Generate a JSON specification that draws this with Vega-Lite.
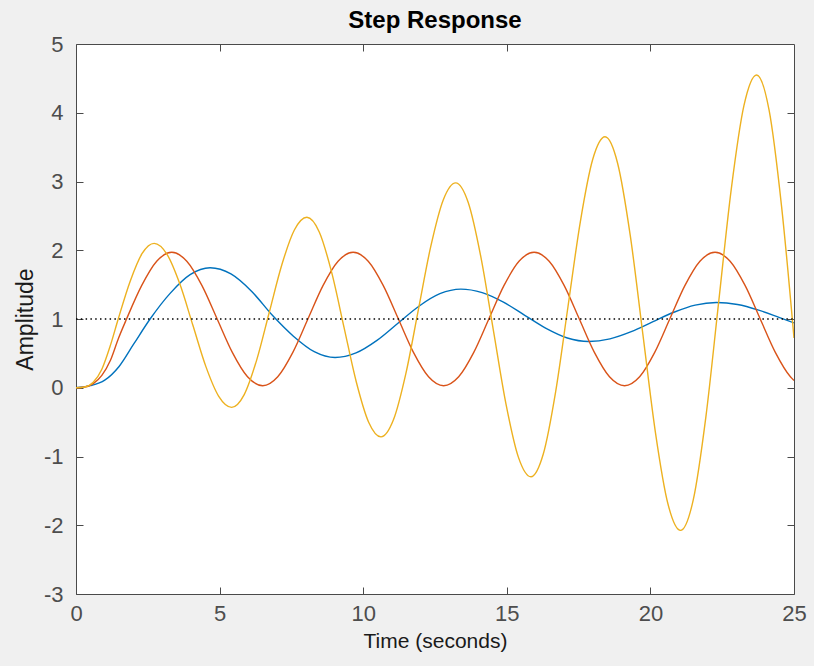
{
  "$schema": "https://vega.github.io/schema/vega-lite/v6.json",
  "width": 718,
  "height": 550,
  "autosize": {"type": "none"},
  "padding": {"left": 76, "top": 44, "right": 20, "bottom": 72},
  "background": "#f0f0f0",
  "title": {"text": "Step Response", "fontSize": 24, "fontWeight": "bold", "font": "Liberation Sans", "color": "#000000", "offset": 0, "anchor": "middle"},
  "config": {
    "view": {"fill": "white", "stroke": "#4a4a4a", "strokeWidth": 1},
    "axis": {"domain": false, "grid": false, "tickSize": -7, "tickColor": "#4a4a4a", "tickWidth": 1,
      "labelFont": "Liberation Sans", "labelFontSize": 22, "labelColor": "#4d4d4d",
      "titleFont": "Liberation Sans", "titleFontSize": 21, "titleColor": "#1a1a1a", "titleFontWeight": "normal"}
  },
  "layer": [
    {
      "data": {"values": [
        {"s":"sys1","t":0,"y":0},{"s":"sys1","t":0.5,"y":0.03},{"s":"sys1","t":1.0,"y":0.11},{"s":"sys1","t":1.5,"y":0.31},{"s":"sys1","t":2.0,"y":0.63},{"s":"sys1","t":2.58,"y":1.0},{"s":"sys1","t":3.277,"y":1.373},{"s":"sys1","t":3.973,"y":1.645},{"s":"sys1","t":4.67,"y":1.745},{"s":"sys1","t":5.395,"y":1.655},{"s":"sys1","t":6.12,"y":1.40},{"s":"sys1","t":6.845,"y":1.05},{"s":"sys1","t":7.57,"y":0.75},{"s":"sys1","t":8.295,"y":0.525},{"s":"sys1","t":9.02,"y":0.44},{"s":"sys1","t":9.75,"y":0.507},{"s":"sys1","t":10.48,"y":0.689},{"s":"sys1","t":11.21,"y":0.938},{"s":"sys1","t":11.94,"y":1.186},{"s":"sys1","t":12.67,"y":1.368},{"s":"sys1","t":13.4,"y":1.435},{"s":"sys1","t":14.142,"y":1.384},{"s":"sys1","t":14.883,"y":1.245},{"s":"sys1","t":15.625,"y":1.054},{"s":"sys1","t":16.367,"y":0.864},{"s":"sys1","t":17.108,"y":0.724},{"s":"sys1","t":17.85,"y":0.673},{"s":"sys1","t":18.592,"y":0.711},{"s":"sys1","t":19.333,"y":0.815},{"s":"sys1","t":20.075,"y":0.957},{"s":"sys1","t":20.817,"y":1.098},{"s":"sys1","t":21.558,"y":1.202},{"s":"sys1","t":22.3,"y":1.24},{"s":"sys1","t":23.033,"y":1.211},{"s":"sys1","t":23.767,"y":1.13},{"s":"sys1","t":24.5,"y":1.02},{"s":"sys1","t":25,"y":0.943},
        {"s":"sys2","t":0,"y":0},{"s":"sys2","t":0.3,"y":0.01},{"s":"sys2","t":0.6,"y":0.06},{"s":"sys2","t":0.9,"y":0.18},{"s":"sys2","t":1.2,"y":0.40},{"s":"sys2","t":1.48,"y":0.72},{"s":"sys2","t":1.76,"y":1.0},{"s":"sys2","t":2.285,"y":1.485},{"s":"sys2","t":2.81,"y":1.84},{"s":"sys2","t":3.335,"y":1.97},{"s":"sys2","t":3.858,"y":1.84},{"s":"sys2","t":4.387,"y":1.485},{"s":"sys2","t":4.915,"y":1.0},{"s":"sys2","t":5.443,"y":0.515},{"s":"sys2","t":5.972,"y":0.16},{"s":"sys2","t":6.5,"y":0.03},{"s":"sys2","t":7.025,"y":0.16},{"s":"sys2","t":7.55,"y":0.515},{"s":"sys2","t":8.075,"y":1.0},{"s":"sys2","t":8.6,"y":1.485},{"s":"sys2","t":9.125,"y":1.84},{"s":"sys2","t":9.65,"y":1.97},{"s":"sys2","t":10.175,"y":1.84},{"s":"sys2","t":10.7,"y":1.485},{"s":"sys2","t":11.225,"y":1.0},{"s":"sys2","t":11.75,"y":0.515},{"s":"sys2","t":12.275,"y":0.16},{"s":"sys2","t":12.8,"y":0.03},{"s":"sys2","t":13.325,"y":0.16},{"s":"sys2","t":13.85,"y":0.515},{"s":"sys2","t":14.375,"y":1.0},{"s":"sys2","t":14.9,"y":1.485},{"s":"sys2","t":15.425,"y":1.84},{"s":"sys2","t":15.95,"y":1.97},{"s":"sys2","t":16.475,"y":1.84},{"s":"sys2","t":17.0,"y":1.485},{"s":"sys2","t":17.525,"y":1.0},{"s":"sys2","t":18.05,"y":0.515},{"s":"sys2","t":18.575,"y":0.16},{"s":"sys2","t":19.1,"y":0.03},{"s":"sys2","t":19.625,"y":0.16},{"s":"sys2","t":20.15,"y":0.515},{"s":"sys2","t":20.675,"y":1.0},{"s":"sys2","t":21.2,"y":1.485},{"s":"sys2","t":21.725,"y":1.84},{"s":"sys2","t":22.25,"y":1.97},{"s":"sys2","t":22.775,"y":1.84},{"s":"sys2","t":23.3,"y":1.485},{"s":"sys2","t":23.825,"y":1.0},{"s":"sys2","t":24.35,"y":0.515},{"s":"sys2","t":24.875,"y":0.16},{"s":"sys2","t":25,"y":0.107},
        {"s":"sys3","t":0,"y":0},{"s":"sys3","t":0.3,"y":0.01},{"s":"sys3","t":0.6,"y":0.08},{"s":"sys3","t":0.9,"y":0.27},{"s":"sys3","t":1.2,"y":0.62},{"s":"sys3","t":1.47,"y":1.0},{"s":"sys3","t":1.887,"y":1.55},{"s":"sys3","t":2.303,"y":1.953},{"s":"sys3","t":2.72,"y":2.1},{"s":"sys3","t":3.17,"y":1.94},{"s":"sys3","t":3.62,"y":1.504},{"s":"sys3","t":4.07,"y":0.908},{"s":"sys3","t":4.52,"y":0.311},{"s":"sys3","t":4.97,"y":-0.125},{"s":"sys3","t":5.42,"y":-0.285},{"s":"sys3","t":5.857,"y":-0.1},{"s":"sys3","t":6.293,"y":0.406},{"s":"sys3","t":6.73,"y":1.098},{"s":"sys3","t":7.167,"y":1.789},{"s":"sys3","t":7.603,"y":2.295},{"s":"sys3","t":8.04,"y":2.48},{"s":"sys3","t":8.47,"y":2.266},{"s":"sys3","t":8.9,"y":1.681},{"s":"sys3","t":9.33,"y":0.883},{"s":"sys3","t":9.76,"y":0.084},{"s":"sys3","t":10.19,"y":-0.501},{"s":"sys3","t":10.62,"y":-0.715},{"s":"sys3","t":11.053,"y":-0.467},{"s":"sys3","t":11.487,"y":0.209},{"s":"sys3","t":11.92,"y":1.133},{"s":"sys3","t":12.353,"y":2.056},{"s":"sys3","t":12.787,"y":2.732},{"s":"sys3","t":13.22,"y":2.98},{"s":"sys3","t":13.657,"y":2.694},{"s":"sys3","t":14.093,"y":1.911},{"s":"sys3","t":14.53,"y":0.843},{"s":"sys3","t":14.967,"y":-0.226},{"s":"sys3","t":15.403,"y":-1.009},{"s":"sys3","t":15.84,"y":-1.295},{"s":"sys3","t":16.27,"y":-0.964},{"s":"sys3","t":16.7,"y":-0.059},{"s":"sys3","t":17.13,"y":1.178},{"s":"sys3","t":17.56,"y":2.414},{"s":"sys3","t":17.99,"y":3.319},{"s":"sys3","t":18.42,"y":3.65},{"s":"sys3","t":18.858,"y":3.266},{"s":"sys3","t":19.297,"y":2.219},{"s":"sys3","t":19.735,"y":0.788},{"s":"sys3","t":20.173,"y":-0.644},{"s":"sys3","t":20.612,"y":-1.691},{"s":"sys3","t":21.05,"y":-2.075},{"s":"sys3","t":21.492,"y":-1.631},{"s":"sys3","t":21.933,"y":-0.419},{"s":"sys3","t":22.375,"y":1.238},{"s":"sys3","t":22.817,"y":2.894},{"s":"sys3","t":23.258,"y":4.106},{"s":"sys3","t":23.7,"y":4.55},{"s":"sys3","t":24.133,"y":4.037},{"s":"sys3","t":24.567,"y":2.638},{"s":"sys3","t":25,"y":0.725}
      ]},
      "mark": {"type": "line", "interpolate": "monotone", "strokeWidth": 1.4, "clip": true},
      "encoding": {
        "x": {"field": "t", "type": "quantitative", "scale": {"domain": [0, 25], "nice": false, "zero": false},
          "axis": {"orient": "bottom", "values": [0, 5, 10, 15, 20, 25], "title": "Time (seconds)", "labelPadding": 16, "titlePadding": 6, "labelFlush": false, "labelExpr": "'' + datum.value"}},
        "y": {"field": "y", "type": "quantitative", "scale": {"domain": [-3, 5], "nice": false, "zero": false},
          "axis": {"orient": "left", "values": [-3, -2, -1, 0, 1, 2, 3, 4, 5], "title": "Amplitude", "titleFontSize": 23, "labelPadding": 20, "titlePadding": 6, "labelFlush": false, "labelExpr": "'' + datum.value"}},
        "color": {"field": "s", "type": "nominal", "scale": {"domain": ["sys1", "sys2", "sys3"], "range": ["#0072BD", "#D95319", "#EDB120"]}, "legend": null}
      }
    },
    {
      "data": {"values": [{"x0": 0, "x1": 25, "y": 1}]},
      "mark": {"type": "rule", "color": "#000000", "strokeWidth": 1.5, "strokeDash": [1.5, 3.3]},
      "encoding": {
        "x": {"field": "x0", "type": "quantitative", "axis": {"orient": "top", "labels": false, "title": null, "values": [5, 10, 15, 20]}},
        "x2": {"field": "x1"},
        "y": {"field": "y", "type": "quantitative", "axis": {"orient": "right", "labels": false, "title": null, "values": [-2, -1, 0, 1, 2, 3, 4]}}
      }
    }
  ],
  "resolve": {"axis": {"x": "independent", "y": "independent"}}
}
